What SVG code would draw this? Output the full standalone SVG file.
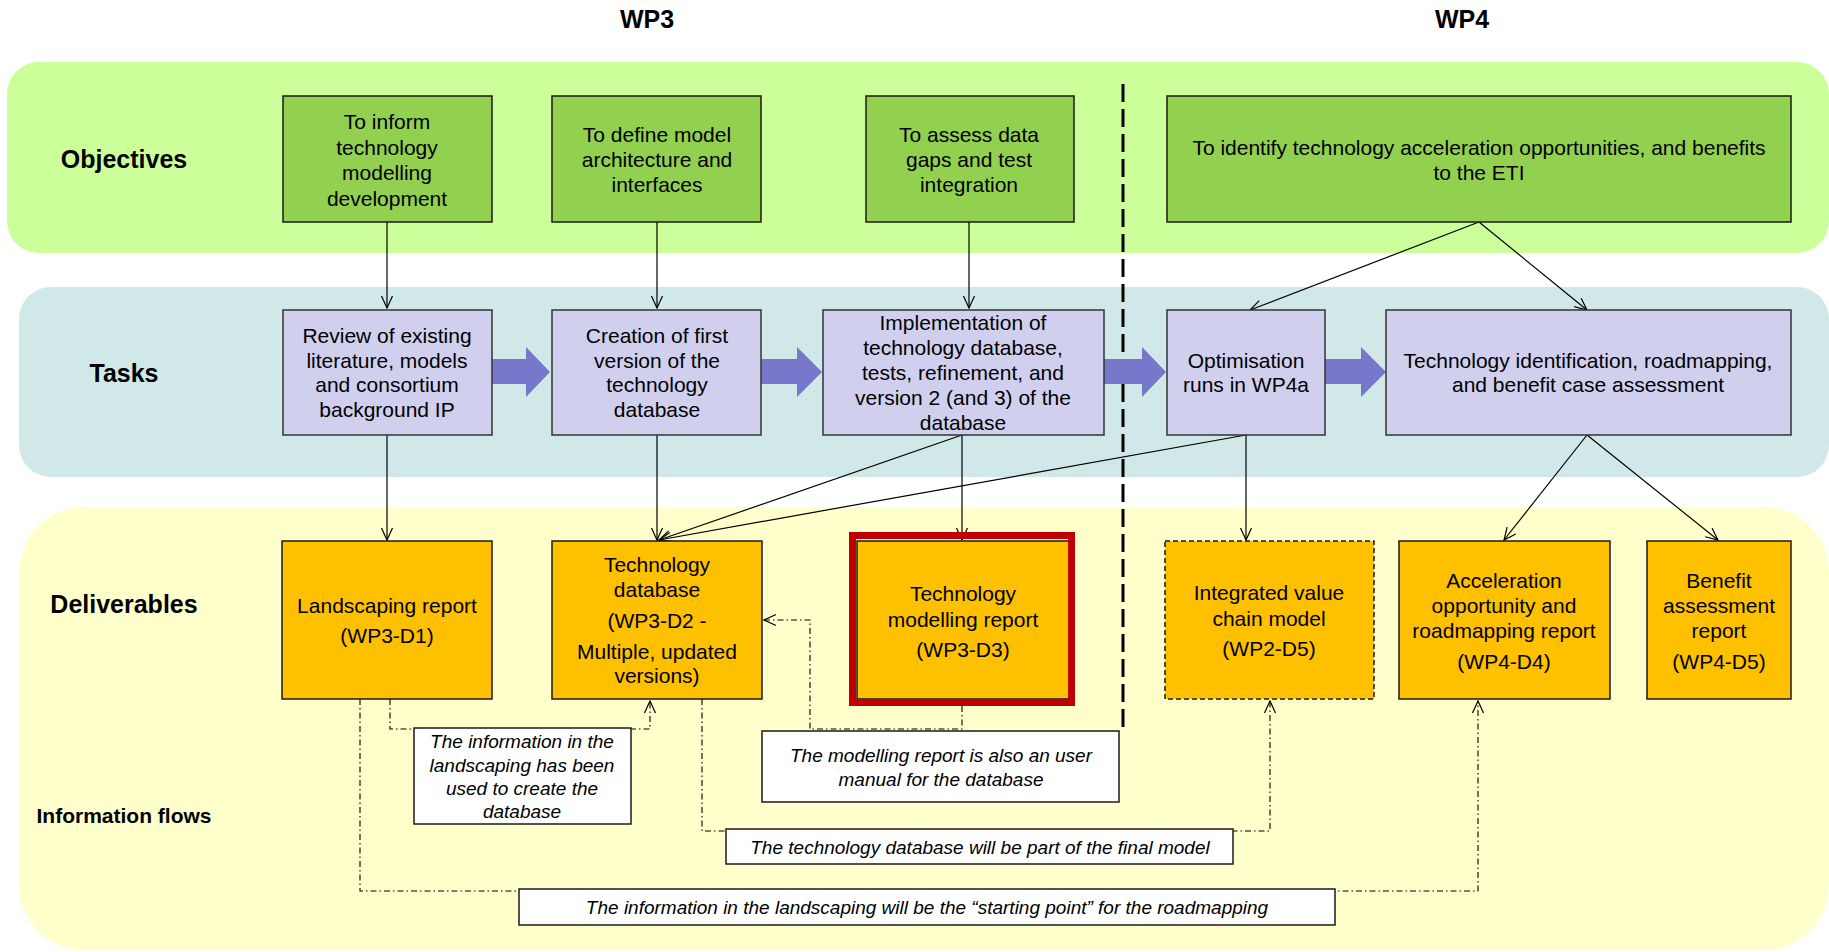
<svg xmlns="http://www.w3.org/2000/svg" width="1829" height="952" viewBox="0 0 1829 952">
<style>
text{font-family:"Liberation Sans",Arial,sans-serif;fill:#000}
.t{font-size:21px;text-anchor:middle}
.lbl{font-size:25px;font-weight:bold;text-anchor:middle}
.note{font-size:19px;font-style:italic;text-anchor:middle}
.obj{fill:#92D050;stroke:#1a1a1a;stroke-width:1.5}
.task{fill:#D0D0EE;stroke:#333;stroke-width:1.5}
.del{fill:#FFC000;stroke:#1a1a1a;stroke-width:1.5}
.nb{fill:#fff;stroke:#1a1a1a;stroke-width:1.5}
.ln{fill:none;stroke:#000;stroke-width:1.2}
.dd{fill:none;stroke:#000;stroke-width:1.1;stroke-dasharray:6 3 1.5 3}
.big{fill:#7777CC}
</style>
<defs>
<marker id="ah" markerUnits="userSpaceOnUse" markerWidth="14" markerHeight="14" viewBox="0 0 14 14" refX="13" refY="7" orient="auto">
<path d="M1,1.5 L13,7 L1,12.5" fill="none" stroke="#000" stroke-width="1.2"/>
</marker>
</defs>
<!-- bands -->
<g id="bands">
<rect x="7" y="62" width="1822" height="191" rx="32" fill="#CCFF99"/>
<rect x="19" y="287" width="1810" height="190" rx="32" fill="#D0E8E8"/>
<rect x="19" y="507" width="1810" height="443" rx="65" fill="#FFFFCC"/>
</g>
<g id="headers">
<text class="lbl" x="647" y="28">WP3</text>
<text class="lbl" x="1462" y="28">WP4</text>
<text class="lbl" x="124" y="168">Objectives</text>
<text class="lbl" x="124" y="382">Tasks</text>
<text class="lbl" x="124" y="613">Deliverables</text>
<text class="lbl" x="124" y="823" style="font-size:21px">Information flows</text>
</g>
<line x1="1123" y1="84" x2="1123" y2="727" stroke="#000" stroke-width="3" stroke-dasharray="18 7"/>
<!-- connectors -->
<g id="connectors">
<line class="ln" x1="387" y1="222" x2="387" y2="308" marker-end="url(#ah)"/>
<line class="ln" x1="657" y1="222" x2="657" y2="308" marker-end="url(#ah)"/>
<line class="ln" x1="969" y1="222" x2="969" y2="308" marker-end="url(#ah)"/>
<line class="ln" x1="1479" y1="222" x2="1250" y2="310" marker-end="url(#ah)"/>
<line class="ln" x1="1479" y1="222" x2="1587" y2="310" marker-end="url(#ah)"/>
<line class="ln" x1="387" y1="435" x2="387" y2="540" marker-end="url(#ah)"/>
<line class="ln" x1="657" y1="435" x2="657" y2="540" marker-end="url(#ah)"/>
<line class="ln" x1="962" y1="435" x2="659" y2="540" marker-end="url(#ah)"/>
<line class="ln" x1="1246" y1="435" x2="659" y2="540" marker-end="url(#ah)"/>
<line class="ln" x1="962" y1="435" x2="962" y2="540" marker-end="url(#ah)"/>
<line class="ln" x1="1246" y1="435" x2="1246" y2="540" marker-end="url(#ah)"/>
<line class="ln" x1="1587" y1="435" x2="1504" y2="540" marker-end="url(#ah)"/>
<line class="ln" x1="1587" y1="435" x2="1718" y2="540" marker-end="url(#ah)"/>
<polygon class="big" points="490,359 526,359 526,347 550,372 526,397 526,384 490,384"/>
<polygon class="big" points="761,359 797,359 797,347 822,372 797,397 797,384 761,384"/>
<polygon class="big" points="1104,359 1142,359 1142,347 1166,372 1142,397 1142,384 1104,384"/>
<polygon class="big" points="1325,359 1361,359 1361,347 1386,372 1361,397 1361,384 1325,384"/>
<path class="dd" d="M390,699 V729 H650 V701" marker-end="url(#ah)"/>
<path class="dd" d="M962,706 V729 H810 V620 H764" marker-end="url(#ah)"/>
<path class="dd" d="M702,699 V831 H1270 V701" marker-end="url(#ah)"/>
<path class="dd" d="M360,699 V891 H1478 V701" marker-end="url(#ah)"/>
</g>
<!-- objectives -->
<g id="obj1"><rect class="obj" x="283" y="96" width="209" height="126"/>
<text class="t" x="387" y="129">To inform</text><text class="t" x="387" y="155">technology</text><text class="t" x="387" y="180">modelling</text><text class="t" x="387" y="206">development</text></g>
<g id="obj2"><rect class="obj" x="552" y="96" width="209" height="126"/>
<text class="t" x="657" y="142">To define model</text><text class="t" x="657" y="167">architecture and</text><text class="t" x="657" y="192">interfaces</text></g>
<g id="obj3"><rect class="obj" x="866" y="96" width="208" height="126"/>
<text class="t" x="969" y="142">To assess data</text><text class="t" x="969" y="167">gaps and test</text><text class="t" x="969" y="192">integration</text></g>
<g id="obj4"><rect class="obj" x="1167" y="96" width="624" height="126"/>
<text class="t" x="1479" y="155">To identify technology acceleration opportunities, and benefits</text><text class="t" x="1479" y="180">to the ETI</text></g>
<!-- tasks -->
<g id="task1"><rect class="task" x="283" y="310" width="209" height="125"/>
<text class="t" x="387" y="343">Review of existing</text><text class="t" x="387" y="368">literature, models</text><text class="t" x="387" y="392">and consortium</text><text class="t" x="387" y="417">background IP</text></g>
<g id="task2"><rect class="task" x="552" y="310" width="209" height="125"/>
<text class="t" x="657" y="343">Creation of first</text><text class="t" x="657" y="368">version of the</text><text class="t" x="657" y="392">technology</text><text class="t" x="657" y="417">database</text></g>
<g id="task3"><rect class="task" x="823" y="310" width="281" height="125"/>
<text class="t" x="963" y="330">Implementation of</text><text class="t" x="963" y="355">technology database,</text><text class="t" x="963" y="380">tests, refinement, and</text><text class="t" x="963" y="405">version 2 (and 3) of the</text><text class="t" x="963" y="430">database</text></g>
<g id="task4"><rect class="task" x="1167" y="310" width="158" height="125"/>
<text class="t" x="1246" y="368">Optimisation</text><text class="t" x="1246" y="392">runs in WP4a</text></g>
<g id="task5"><rect class="task" x="1386" y="310" width="405" height="125"/>
<text class="t" x="1588" y="368">Technology identification, roadmapping,</text><text class="t" x="1588" y="392">and benefit  case assessment</text></g>
<!-- deliverables -->
<g id="d1"><rect class="del" x="282" y="541" width="210" height="158"/>
<text class="t" x="387" y="613">Landscaping report</text><text class="t" x="387" y="643">(WP3-D1)</text></g>
<g id="d2"><rect class="del" x="552" y="541" width="210" height="158"/>
<text class="t" x="657" y="572">Technology</text><text class="t" x="657" y="597">database</text><text class="t" x="657" y="628">(WP3-D2 -</text><text class="t" x="657" y="659">Multiple, updated</text><text class="t" x="657" y="683">versions)</text></g>
<g id="d3"><rect class="del" x="857" y="541" width="212" height="158"/>
<rect x="852.5" y="535.5" width="219" height="167" fill="none" stroke="#C00000" stroke-width="7"/>
<text class="t" x="963" y="601">Technology</text><text class="t" x="963" y="627">modelling report</text><text class="t" x="963" y="657">(WP3-D3)</text></g>
<g id="d4"><rect class="del" x="1165" y="541" width="209" height="158" style="stroke-dasharray:5 3"/>
<text class="t" x="1269" y="600">Integrated value</text><text class="t" x="1269" y="626">chain model</text><text class="t" x="1269" y="656">(WP2-D5)</text></g>
<g id="d5"><rect class="del" x="1399" y="541" width="211" height="158"/>
<text class="t" x="1504" y="588">Acceleration</text><text class="t" x="1504" y="613">opportunity and</text><text class="t" x="1504" y="638">roadmapping report</text><text class="t" x="1504" y="669">(WP4-D4)</text></g>
<g id="d6"><rect class="del" x="1647" y="541" width="144" height="158"/>
<text class="t" x="1719" y="588">Benefit</text><text class="t" x="1719" y="613">assessment</text><text class="t" x="1719" y="638">report</text><text class="t" x="1719" y="669">(WP4-D5)</text></g>
<!-- notes -->
<g id="note1"><rect class="nb" x="414" y="728" width="217" height="96"/>
<text class="note" x="522" y="748">The information  in the</text><text class="note" x="522" y="772">landscaping has been</text><text class="note" x="522" y="795">used to create the</text><text class="note" x="522" y="818">database</text></g>
<g id="note2"><rect class="nb" x="762" y="731" width="357" height="71"/>
<text class="note" x="941" y="762">The modelling report is also an user</text><text class="note" x="941" y="786">manual for the database</text></g>
<g id="note3"><rect class="nb" x="726" y="829" width="507" height="35"/>
<text class="note" x="980" y="854">The technology database will be part of the final model</text></g>
<g id="note4"><rect class="nb" x="519" y="889" width="816" height="36"/>
<text class="note" x="927" y="914">The information  in the landscaping will be the “starting point” for the roadmapping</text></g>
</svg>
